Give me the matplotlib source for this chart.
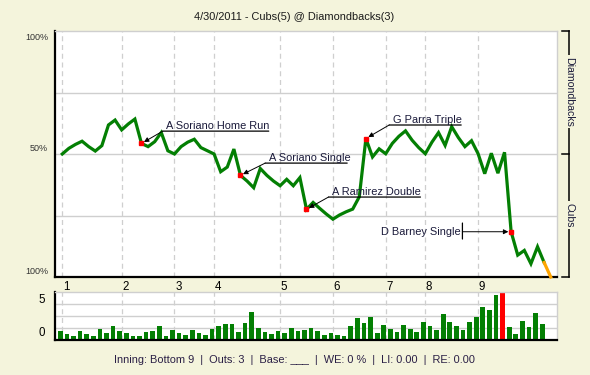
import numpy as np
import matplotlib
matplotlib.use('Agg')
import matplotlib.pyplot as plt
from matplotlib.transforms import offset_copy

plt.rcParams['font.family'] = ['Liberation Sans', 'DejaVu Sans']

# win probability (Diamondbacks %) after each play
wp = [50.0, 52.3, 53.9, 55.2, 53.0, 51.2, 53.4, 61.8, 63.8, 59.8,
      62.2, 64.2, 54.3, 53.0, 55.0, 58.7, 51.3, 50.0, 53.0, 54.8,
      56.0, 52.6, 51.3, 50.0, 42.8, 44.7, 52.0, 41.3, 39.0, 36.3,
      44.1, 41.3, 39.0, 37.1, 39.7, 37.1, 40.4, 27.5, 30.3, 27.9,
      25.6, 23.5, 25.2, 26.5, 27.6, 32.6, 56.3, 48.8, 52.1, 50.1,
      54.3, 57.2, 59.4, 55.6, 52.6, 50.1, 54.8, 58.7, 53.5, 61.1,
      56.7, 53.0, 55.4, 50.1, 42.0, 50.3, 42.2, 50.7, 18.4, 8.9,
      10.8, 5.4, 12.3, 5.9, 0.0]

# leverage bars (one per play)
li = [0.78, 0.53, 0.36, 0.78, 0.53, 0.36, 0.94, 0.61, 1.19, 0.78,
      0.61, 0.36, 0.36, 0.69, 0.78, 1.19, 0.36, 0.86, 0.61, 0.44,
      0.86, 0.61, 0.44, 0.94, 1.19, 1.36, 1.36, 0.69, 1.44, 2.36,
      1.03, 0.69, 0.53, 0.78, 0.61, 1.03, 0.78, 0.86, 1.03, 0.78,
      0.44, 0.61, 0.44, 0.36, 1.19, 1.86, 1.44, 1.94, 0.61, 1.28,
      0.94, 0.69, 1.28, 0.94, 0.69, 1.53, 1.19, 0.86, 2.19, 1.53,
      1.19, 0.86, 1.53, 1.94, 2.78, 2.53, 3.78, 4.30, 1.11, 0.53,
      1.61, 1.11, 2.28, 1.36]
red_play = 67

inning_starts = [0, 9, 17, 23, 33, 41, 49, 55, 63]
inning_labels = ['1', '2', '3', '4', '5', '6', '7', '8', '9']

event_idx = [12, 27, 37, 46, 68]
event_text = ['A Soriano Home Run', 'A Soriano Single', 'A Ramirez Double',
              'G Parra Triple', 'D Barney Single']

bg = '#F4F4DC'
green = '#037F03'
grid_c = '#CFCFCF'

fig = plt.figure(figsize=(5.9, 3.75), dpi=100, facecolor=bg)
ax = fig.add_axes([55/590, 1-277/375, 502/590, 246/375])
axb = fig.add_axes([55/590, 1-340.3/375, 502/590, 48/375], sharex=ax)

x = np.arange(len(wp))

# main win-probability panel
ax.set_facecolor('white')
for v in [25, 50, 75]:
    ax.axhline(v, color=grid_c, lw=1, zorder=0)
for s in inning_starts:
    ax.axvline(s, color=grid_c, lw=0.9, ls=(0, (4, 3)), zorder=0)
ax.plot(x[:-1], wp[:-1], color=green, lw=2.3, solid_joinstyle='miter', zorder=3)
ax.plot(x[-2:], wp[-2:], color='#FFA500', lw=2.3, zorder=3, clip_on=False)
ax.plot([x[i] for i in event_idx], [wp[i] for i in event_idx], 's',
        color='red', ms=3.5, zorder=4)
ax.set_xlim(-1.1, 74.95)
ax.set_ylim(0, 100)
ax.set_yticks([97.6, 52.8, 2.8], ['100%', '50%', '100%'], fontsize=6.5)
ax.tick_params(axis='y', length=0, pad=5, colors='#333333')
ax.tick_params(axis='x', length=0, labelbottom=False)
for sp in ['left', 'bottom']:
    ax.spines[sp].set_color('black')
    ax.spines[sp].set_linewidth(1.6)
for sp in ['top', 'right']:
    ax.spines[sp].set_color(grid_c)
    ax.spines[sp].set_linewidth(1)

for s, lab in zip(inning_starts, inning_labels):
    ax.text(s + 0.1, -0.042, lab, transform=ax.get_xaxis_transform(),
            ha='left', va='center', fontsize=8.3)

# annotations: underline start, underline end, height (pixels from point)
offs = [(21.3, 127.3, 12.3), (24.7, 106.7, 12.3), (22.0, 114.0, 12.3),
        (23.3, 95.3, 13.5)]
for k, (i, txt) in enumerate(zip(event_idx, event_text)):
    p = (x[i], wp[i])
    if k < 4:
        dx0, dx1, dy = offs[k]
        t0 = offset_copy(ax.transData, fig=fig, x=dx0, y=dy, units='dots')
        t1 = offset_copy(ax.transData, fig=fig, x=dx1, y=dy, units='dots')
        ax.annotate('', xy=p, xycoords=t1, xytext=p, textcoords=t0,
                    arrowprops=dict(arrowstyle='-', lw=0.9, color='black',
                                    shrinkA=0, shrinkB=0))
        ax.annotate('', xy=p, xytext=p, textcoords=t0,
                    arrowprops=dict(arrowstyle='-|>', lw=0.7, color='black',
                                    mutation_scale=7, shrinkA=0, shrinkB=2))
        tt = offset_copy(ax.transData, fig=fig, x=dx0 + 3.5, y=dy + 2.5, units='dots')
        ax.text(p[0], p[1], txt, transform=tt, ha='left', va='baseline',
                fontsize=7.9, color='#1a1a3a')
    else:
        dx0 = -48.7
        t0 = offset_copy(ax.transData, fig=fig, x=dx0, y=0, units='dots')
        ta = offset_copy(ax.transData, fig=fig, x=dx0, y=8.7, units='dots')
        tb = offset_copy(ax.transData, fig=fig, x=dx0, y=-7.3, units='dots')
        ax.annotate('', xy=p, xycoords=ta, xytext=p, textcoords=tb,
                    arrowprops=dict(arrowstyle='-', lw=0.9, color='black',
                                    shrinkA=0, shrinkB=0))
        ax.annotate('', xy=p, xytext=p, textcoords=t0,
                    arrowprops=dict(arrowstyle='-|>', lw=0.7, color='black',
                                    mutation_scale=7, shrinkA=0, shrinkB=2))
        tt = offset_copy(ax.transData, fig=fig, x=dx0 - 1.5, y=0, units='dots')
        ax.text(p[0], p[1], txt, transform=tt, ha='right', va='center',
                fontsize=7.9, color='#1a1a3a')

# right-hand team bracket
ax.plot([1.024, 1.024], [0, 1], color='black', lw=1.1, transform=ax.transAxes, clip_on=False)
for yy in [0, 0.5, 1]:
    ax.plot([1.010, 1.024], [yy, yy], color='black', lw=1.1,
            transform=ax.transAxes, clip_on=False)
for yy, lab in [(0.754, 'Diamondbacks'), (0.252, 'Cubs')]:
    ax.text(1.024, yy, lab, transform=ax.transAxes, rotation=270,
            ha='center', va='center', fontsize=7.6, color='#1a1a3a',
            bbox=dict(facecolor=bg, edgecolor='none', pad=1.0))

# leverage bars
axb.set_facecolor('white')
for v in [1, 2, 3]:
    axb.axhline(v, color=grid_c, lw=1, zorder=0)
for s in inning_starts:
    axb.axvline(s, color=grid_c, lw=0.9, ls=(0, (4, 3)), zorder=0)
bar_colors = [('red' if k == red_play else '#037F03') for k in range(len(li))]
axb.bar(np.arange(len(li)) - 0.3, li, width=0.72, color=bar_colors, zorder=2)
axb.set_ylim(0, 4)
axb.set_yticks([0.7, 3.5], ['0', '5'], fontsize=8.3)
axb.tick_params(axis='y', length=0, pad=7)
axb.tick_params(axis='x', length=0, labelbottom=False)
for sp in ['left', 'bottom']:
    axb.spines[sp].set_color('black')
    axb.spines[sp].set_linewidth(1.6)
for sp in ['top', 'right']:
    axb.spines[sp].set_color(grid_c)
    axb.spines[sp].set_linewidth(1)

fig.text(294/590, 1 - 17/375, '4/30/2011 - Cubs(5) @ Diamondbacks(3)',
         ha='center', va='center', fontsize=7.9, color='#1a1a1a')
fig.text(294/590, 1 - 360/375,
         'Inning: Bottom 9  |  Outs: 3  |  Base: ___  |  WE: 0 %  |  LI: 0.00  |  RE: 0.00',
         ha='center', va='center', fontsize=7.9, color='#2a1f45')

fig.savefig('out.png', dpi=100, facecolor=bg)
